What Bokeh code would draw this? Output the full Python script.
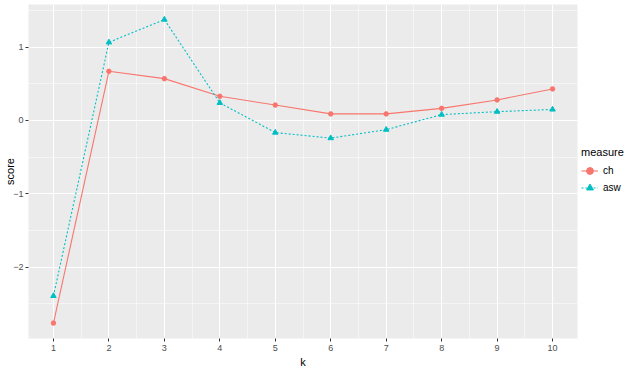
from bokeh.plotting import figure
from bokeh.models import Range1d, FixedTicker, Legend
from bokeh.embed import file_html
from bokeh.resources import INLINE

k = [1, 2, 3, 4, 5, 6, 7, 8, 9, 10]
ch = [-2.76, 0.67, 0.57, 0.33, 0.21, 0.09, 0.09, 0.165, 0.28, 0.43]
asw = [-2.39, 1.065, 1.375, 0.24, -0.165, -0.24, -0.125, 0.08, 0.12, 0.15]
x_ticks = [1, 2, 3, 4, 5, 6, 7, 8, 9, 10]
x_minor = [1.5, 2.5, 3.5, 4.5, 5.5, 6.5, 7.5, 8.5, 9.5]
y_ticks = [-2, -1, 0, 1]
y_minor = [-2.5, -1.5, -0.5, 0.5, 1.5]

RED = "#F8766D"
TEAL = "#00BFC4"
FONT = "Liberation Sans"

p = figure(frame_width=549, frame_height=334, x_range=Range1d(0.55, 10.45), y_range=Range1d(-2.97, 1.58),
           output_backend="svg", toolbar_location=None,
           min_border_left=28, min_border_right=0, min_border_top=4, min_border_bottom=32,
           background_fill_color="#EBEBEB", border_fill_color="white", outline_line_color=None)

p.xaxis.ticker = FixedTicker(ticks=x_ticks, minor_ticks=x_minor)
p.yaxis.ticker = FixedTicker(ticks=y_ticks, minor_ticks=y_minor)
p.xaxis.axis_label = "k"
p.yaxis.axis_label = "score"
for ax in (p.xaxis, p.yaxis):
    ax.axis_line_color = None
    ax.major_tick_line_color = "#333333"
    ax.major_tick_out = 3
    ax.major_tick_in = 0
    ax.minor_tick_line_color = None
    ax.major_label_text_font = FONT
    ax.major_label_text_font_size = "9px"
    ax.major_label_text_color = "#4D4D4D"
    ax.major_label_standoff = 2
    ax.axis_label_text_font = FONT
    ax.axis_label_text_font_size = "11px"
    ax.axis_label_text_font_style = "normal"
    ax.axis_label_text_color = "black"
    ax.axis_label_standoff = 2
p.yaxis.major_label_standoff = 1
p.yaxis.axis_label_standoff = -6

for g in (p.xgrid, p.ygrid):
    g.grid_line_color = "white"
    g.grid_line_width = 1.1
    g.minor_grid_line_color = "white"
    g.minor_grid_line_width = 0.5

l1 = p.line(k, ch, line_color=RED, line_width=1.1)
s1 = p.scatter(k, ch, marker="circle", size=4.5, fill_color=RED, line_color=RED)
l2 = p.line(k, asw, line_color=TEAL, line_width=1.1, line_dash="2 2")
s2 = p.scatter(k, asw, marker="triangle", size=5.5, fill_color=TEAL, line_color=TEAL)

legend = Legend(items=[("ch", [l1, s1]), ("asw", [l2, s2])], title="measure",
                location="center_left", orientation="vertical")
legend.title_text_font = FONT
legend.title_text_font_size = "11px"
legend.title_text_font_style = "normal"
legend.title_text_color = "black"
legend.label_text_font = FONT
legend.label_text_font_size = "10px"
legend.label_text_color = "black"
legend.glyph_width = 17
legend.glyph_height = 17
legend.label_height = 17
legend.spacing = 0
legend.label_standoff = 5
legend.padding = 4
legend.margin = 4
legend.border_line_color = None
legend.background_fill_color = "white"
legend.title_standoff = 4
p.add_layout(legend, "right")

open("out.html", "w").write(file_html(p, INLINE))
